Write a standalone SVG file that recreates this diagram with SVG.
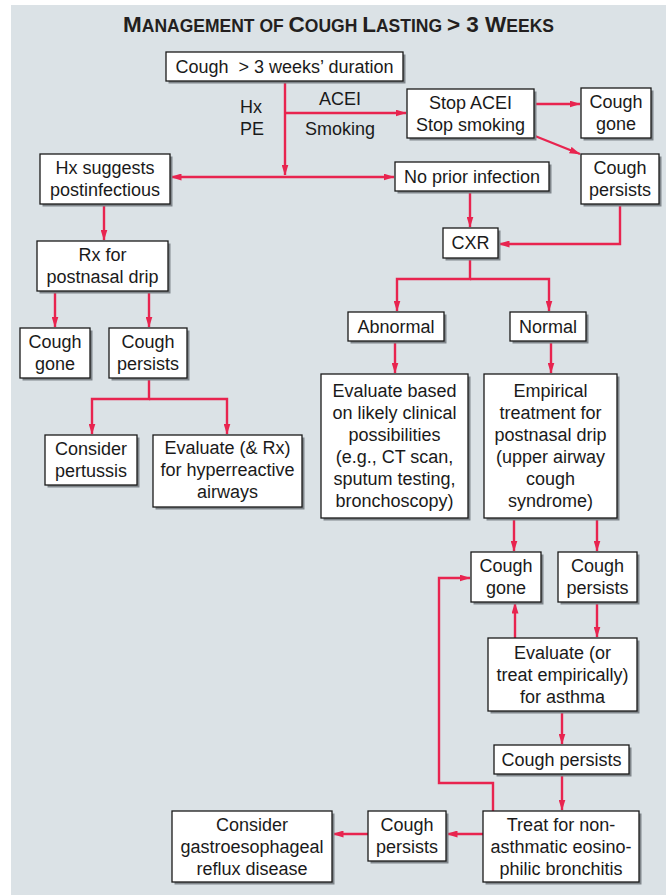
<svg xmlns="http://www.w3.org/2000/svg" width="666" height="895" viewBox="0 0 666 895">
<style>
.bg{fill:#dbe2e6}
.sh{fill:#80868b}
.bx{fill:#fff;stroke:#1a1a1a;stroke-width:1.3}
text{font-family:"Liberation Sans",Arial,sans-serif;font-size:18px;fill:#1a1a1a;text-anchor:middle}
.ttl{font-weight:bold;fill:#231f20}
.c{fill:none;stroke:#e8244f;stroke-width:2.4;marker-end:url(#ah)}
</style>
<defs>
<marker id="ah" viewBox="0 0 11 7" refX="10.5" refY="3.5" markerWidth="11" markerHeight="7" markerUnits="userSpaceOnUse" orient="auto"><path d="M0,0 L11,3.5 L0,7 z" fill="#e8244f"/></marker>
</defs>
<rect class="bg" x="11" y="5" width="655" height="890"/>
<text class="ttl" x="338.5" y="32"><tspan font-size="22.5">M</tspan><tspan font-size="17.5">ANAGEMENT OF </tspan><tspan font-size="22.5">C</tspan><tspan font-size="17.5">OUGH </tspan><tspan font-size="22.5">L</tspan><tspan font-size="17.5">ASTING </tspan><tspan font-size="22.5">&gt; 3 W</tspan><tspan font-size="17.5">EEKS</tspan></text>

<g id="connectors">
<path class="c" d="M285,81 V175"/>
<path class="c" d="M285,177 H171"/>
<path class="c" d="M285,177 H394"/>
<path class="c" d="M285,113 H406"/>
<path class="c" d="M534,104 H580"/>
<path class="c" d="M535,136 L580,154"/>
<path class="c" d="M470,191 V227"/>
<path class="c" d="M620,204 V244 H499"/>
<path class="c" d="M104,204 V240"/>
<path class="c" d="M55,291 V327"/>
<path class="c" d="M149,291 V327"/>
<path class="c" d="M149,378 V399 H92 V434"/>
<path class="c" d="M149,399 H227 V434"/>
<path class="c" d="M470,258 V279 H397 V311"/>
<path class="c" d="M470,279 H549 V311"/>
<path class="c" d="M395,341 V373"/>
<path class="c" d="M551,341 V373"/>
<path class="c" d="M514,518 V551"/>
<path class="c" d="M597,518 V551"/>
<path class="c" d="M597,602 V637"/>
<path class="c" d="M515,638 V603"/>
<path class="c" d="M562,711 V744"/>
<path class="c" d="M562,774 V810"/>
<path class="c" d="M493,811 V783 H439 V578 H470"/>
<path class="c" d="M483,834 H447"/>
<path class="c" d="M368,834 H333"/>
</g>

<g id="n-start"><rect class="sh" x="168.5" y="54.5" width="237" height="29"/><rect class="bx" x="166" y="52" width="237" height="29"/><text x="284.5" y="72.5">Cough&#160; &gt; 3 weeks’ duration</text></g>
<g id="lbl-hxpe"><text x="251" y="113">Hx</text><text x="252" y="135">PE</text></g>
<g id="lbl-acei"><text x="340" y="105">ACEI</text><text x="340" y="135">Smoking</text></g>
<g id="n-stop"><rect class="sh" x="409.5" y="91.5" width="127" height="49"/><rect class="bx" x="407" y="89" width="127" height="49"/><text x="470.5" y="109">Stop ACEI</text><text x="470.5" y="131">Stop smoking</text></g>
<g id="n-gone1"><rect class="sh" x="583.5" y="90.5" width="70" height="50"/><rect class="bx" x="581" y="88" width="70" height="50"/><text x="616" y="108">Cough</text><text x="616" y="130">gone</text></g>
<g id="n-pers1"><rect class="sh" x="583.5" y="156.5" width="78" height="50"/><rect class="bx" x="581" y="154" width="78" height="50"/><text x="620" y="174">Cough</text><text x="620" y="196">persists</text></g>
<g id="n-hx"><rect class="sh" x="42.5" y="156.5" width="130" height="50"/><rect class="bx" x="40" y="154" width="130" height="50"/><text x="105" y="174">Hx suggests</text><text x="105" y="196">postinfectious</text></g>
<g id="n-noprior"><rect class="sh" x="397.5" y="164.5" width="154" height="29"/><rect class="bx" x="395" y="162" width="154" height="29"/><text x="472" y="182.5">No prior infection</text></g>
<g id="n-cxr"><rect class="sh" x="445.5" y="230.5" width="55" height="30"/><rect class="bx" x="443" y="228" width="55" height="30"/><text x="470.5" y="249">CXR</text></g>
<g id="n-rx"><rect class="sh" x="39.5" y="243.5" width="131" height="50"/><rect class="bx" x="37" y="241" width="131" height="50"/><text x="102.5" y="261">Rx for</text><text x="102.5" y="283">postnasal drip</text></g>
<g id="n-gone2"><rect class="sh" x="22.5" y="330.5" width="70" height="50"/><rect class="bx" x="20" y="328" width="70" height="50"/><text x="55" y="348">Cough</text><text x="55" y="370">gone</text></g>
<g id="n-pers2"><rect class="sh" x="111.5" y="330.5" width="78" height="50"/><rect class="bx" x="109" y="328" width="78" height="50"/><text x="148" y="348">Cough</text><text x="148" y="370">persists</text></g>
<g id="n-pertussis"><rect class="sh" x="47.5" y="437.5" width="92" height="50"/><rect class="bx" x="45" y="435" width="92" height="50"/><text x="91" y="455">Consider</text><text x="91" y="477">pertussis</text></g>
<g id="n-hyper"><rect class="sh" x="155.5" y="437.5" width="149" height="72"/><rect class="bx" x="153" y="435" width="149" height="72"/><text x="227.5" y="454">Evaluate (&amp; Rx)</text><text x="227.5" y="476">for hyperreactive</text><text x="227.5" y="498">airways</text></g>
<g id="n-abn"><rect class="sh" x="350.5" y="314.5" width="96" height="29"/><rect class="bx" x="348" y="312" width="96" height="29"/><text x="396" y="332.5">Abnormal</text></g>
<g id="n-norm"><rect class="sh" x="512.5" y="314.5" width="76" height="29"/><rect class="bx" x="510" y="312" width="76" height="29"/><text x="548" y="332.5">Normal</text></g>
<g id="n-evalclin"><rect class="sh" x="323.5" y="376.5" width="147" height="144"/><rect class="bx" x="321" y="374" width="147" height="144"/><text x="394.5" y="397">Evaluate based</text><text x="394.5" y="419">on likely clinical</text><text x="394.5" y="441">possibilities</text><text x="394.5" y="463">(e.g., CT scan,</text><text x="394.5" y="485">sputum testing,</text><text x="394.5" y="507">bronchoscopy)</text></g>
<g id="n-empir"><rect class="sh" x="486.5" y="376.5" width="133" height="144"/><rect class="bx" x="484" y="374" width="133" height="144"/><text x="550.5" y="397">Empirical</text><text x="550.5" y="419">treatment for</text><text x="550.5" y="441">postnasal drip</text><text x="550.5" y="463">(upper airway</text><text x="550.5" y="485">cough</text><text x="550.5" y="507">syndrome)</text></g>
<g id="n-gone3"><rect class="sh" x="473.5" y="554.5" width="70" height="50"/><rect class="bx" x="471" y="552" width="70" height="50"/><text x="506" y="572">Cough</text><text x="506" y="594">gone</text></g>
<g id="n-pers3"><rect class="sh" x="560.5" y="554.5" width="79" height="50"/><rect class="bx" x="558" y="552" width="79" height="50"/><text x="597.5" y="572">Cough</text><text x="597.5" y="594">persists</text></g>
<g id="n-asthma"><rect class="sh" x="490.5" y="640.5" width="149" height="73"/><rect class="bx" x="488" y="638" width="149" height="73"/><text x="562.5" y="659">Evaluate (or</text><text x="562.5" y="681">treat empirically)</text><text x="562.5" y="703">for asthma</text></g>
<g id="n-pers4"><rect class="sh" x="496.5" y="747.5" width="135" height="29"/><rect class="bx" x="494" y="745" width="135" height="29"/><text x="561.5" y="765.5">Cough persists</text></g>
<g id="n-naeb"><rect class="sh" x="485.5" y="813.5" width="156" height="71"/><rect class="bx" x="483" y="811" width="156" height="71"/><text x="561" y="830.5">Treat for non-</text><text x="561" y="852.5">asthmatic eosino-</text><text x="561" y="874.5">philic bronchitis</text></g>
<g id="n-pers5"><rect class="sh" x="370.5" y="813.5" width="78" height="50"/><rect class="bx" x="368" y="811" width="78" height="50"/><text x="407" y="831">Cough</text><text x="407" y="853">persists</text></g>
<g id="n-gerd"><rect class="sh" x="174.5" y="813.5" width="160" height="71"/><rect class="bx" x="172" y="811" width="160" height="71"/><text x="252" y="830.5">Consider</text><text x="252" y="852.5">gastroesophageal</text><text x="252" y="874.5">reflux disease</text></g>
</svg>
